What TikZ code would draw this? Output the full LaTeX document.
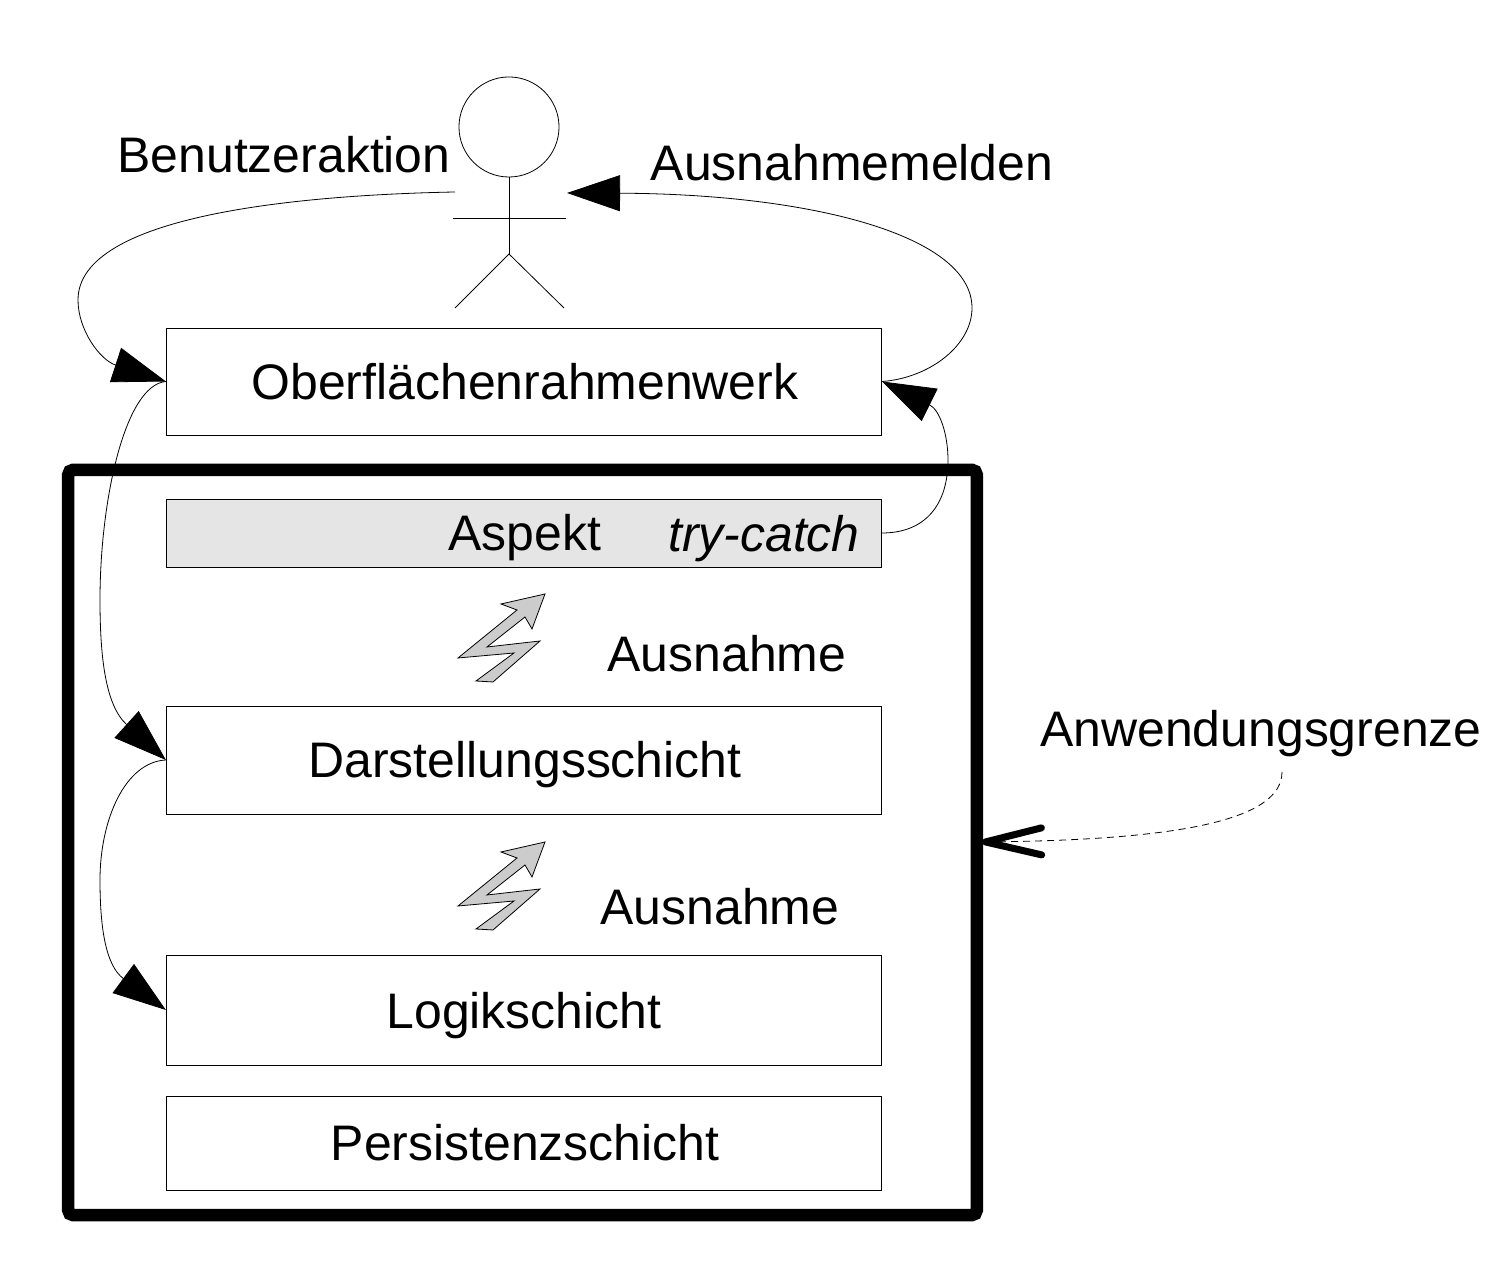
\documentclass[tikz,border=0pt]{standalone}
\usepackage{fontspec}
\setmainfont{Liberation Sans}
\usetikzlibrary{arrows.meta}
\tikzset{
  every node/.style={font=\fontsize{14.2pt}{17pt}\selectfont},
  thinline/.style={line width=.08mm},
  layerbox/.style={draw,thinline,minimum width=7.15cm,inner sep=0pt,text height=.36cm,text depth=0pt},
  caption/.style={anchor=base,inner sep=0pt},
  solidflow/.style={thinline,-{Triangle[length=.53cm,width=.36cm]}},
}
\begin{document}
\begin{tikzpicture}[x=.01cm,y=-.01cm]
  \useasboundingbox (0,0) rectangle (1508,1280);
  % application boundary
  \node (grenze) [draw,line width=1.25mm,rounded corners=.5mm,minimum width=9.08cm,minimum height=7.45cm,inner sep=0pt] at (522.5,842.5) {};
  % layers
  \node (ober) [layerbox,minimum height=1.07cm] at (524,381.5) {\hspace{.02cm}Oberflächenrahmenwerk};
  \node (aspekt) [layerbox,minimum height=.68cm,fill=black!10] at (524,533) {\hspace{.02cm}Aspekt};
  \node (darst) [layerbox,minimum height=1.08cm] at (524,760) {\hspace{.02cm}Darstellungsschicht};
  \node (logik) [layerbox,minimum height=1.10cm] at (524,1010) {Logikschicht};
  \node (persist) [layerbox,minimum height=.94cm] at (524,1143) {\hspace{.02cm}Persistenzschicht};
  % labels
  \node (trycatch) [caption] at (764,552) {\itshape try-catch};
  \node (benutzer) [caption] at (284,173) {Benutzeraktion};
  \node (melden) [caption] at (852,181) {Ausnahmemelden};
  \node (ausnahmeA) [caption] at (727,672) {Ausnahme};
  \node (ausnahmeB) [caption] at (720,925) {Ausnahme};
  \node (anwendung) [caption] at (1261,747) {Anwendungsgrenze};
  % user
  \node (kopf) [draw,thinline,circle,minimum size=1cm,inner sep=0pt] at (509,127) {};
  \coordinate (huefte) at (509,254);
  \coordinate (armL) at (453,218);
  \coordinate (armR) at (566,218);
  \coordinate (beinL) at (455,308);
  \coordinate (beinR) at (564,308);
  \draw[thinline] (kopf.south) -- (huefte);
  \draw[thinline] (armL) -- (armR);
  \draw[thinline] (beinL) -- (huefte) -- (beinR);
  % exception bolts
  \foreach \dy in {0,248} {
    \draw[thinline,fill=black!20,yshift=-\dy*.01cm]
      (545,594) -- (501,604) -- (517,610) -- (458,658) -- (514,653) -- (476,681)
      -- (493,682) -- (540,641) -- (487,647) -- (525,617) -- (532,629) -- cycle;
  }
  % flows
  \coordinate (aktion) at (455,192);
  \coordinate (meldung) at (567,193);
  \draw[solidflow] (aktion) .. controls (300,195) and (78,215) .. (78,300)
    .. controls (78,330) and (100,360) .. (ober.west);
  \draw[solidflow] (ober.east) .. controls (930,378) and (972,345) .. (972,308)
    .. controls (972,235) and (810,194) .. (meldung);
  \draw[solidflow] (aspekt.east) .. controls (925,533) and (948,505) .. (948,460)
    .. controls (948,435) and (940,410) .. (ober.east);
  \draw[solidflow] (ober.west) .. controls (125,385) and (100,500) .. (100,600)
    .. controls (100,655) and (105,705) .. (darst.west);
  \draw[solidflow] (darst.west) .. controls (125,762) and (100,820) .. (100,880)
    .. controls (100,925) and (105,965) .. (logik.west);
  \coordinate (grenzeA) at (1282,772);
  \coordinate (grenzeB) at (982,842);
  \draw[thinline,dash pattern=on .07cm off .05cm,-{Straight Barb[length=.56cm,width=.27cm,line width=.7mm,round]}]
    (grenzeA) .. controls (1282,820) and (1180,840) .. (grenzeB);
\end{tikzpicture}
\end{document}
